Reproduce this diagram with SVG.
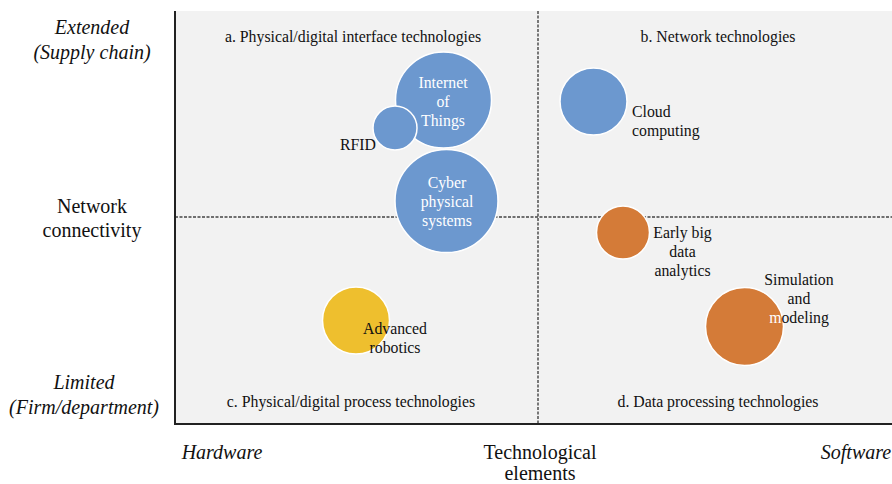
<svg xmlns="http://www.w3.org/2000/svg" width="892" height="484" viewBox="0 0 892 484" font-family="'Liberation Serif', 'DejaVu Serif', serif">
  <style>
    text { font-family: 'Liberation Serif', 'DejaVu Serif', serif; fill: #111; }
    .axis { font-size: 20px; text-anchor: middle; }
    .it { font-style: italic; }
    .quad { font-size: 15.8px; text-anchor: middle; }
    .lbl { font-size: 15.8px; }
    .mid { text-anchor: middle; }
    .inside { fill: #ffffff; }
    .bubble { stroke: #ffffff; stroke-width: 1.5; }
    .blue { fill: #6c98cf; }
    .orange { fill: #d47b38; }
    .yellow { fill: #eebf2e; }
    .divider { stroke: #444; stroke-width: 1.4; stroke-dasharray: 3 1.5; fill: none; }
    .frame { stroke: #222; stroke-width: 2; fill: none; }
  </style>

  <!-- plot background -->
  <rect x="175" y="11" width="717" height="413" fill="#f2f2f2"/>

  <!-- quadrant dividers and frame -->
  <g id="connectors">
    <line class="divider" x1="538" y1="11" x2="538" y2="424"/>
    <line class="divider" x1="175" y1="217" x2="892" y2="217"/>
    <polyline class="frame" points="175,11 175,424 892,424"/>
  </g>

  <!-- axis labels -->
  <g id="y-axis-labels">
    <text class="axis it" x="92" y="34">Extended</text>
    <text class="axis it" x="92" y="59">(Supply chain)</text>
    <text class="axis" x="92" y="213">Network</text>
    <text class="axis" x="92" y="237">connectivity</text>
    <text class="axis it" x="84" y="389">Limited</text>
    <text class="axis it" x="84" y="414">(Firm/department)</text>
  </g>
  <g id="x-axis-labels">
    <text class="axis it" x="222" y="459">Hardware</text>
    <text class="axis" x="540" y="459">Technological</text>
    <text class="axis" x="540" y="480">elements</text>
    <text class="axis it" x="856" y="459">Software</text>
  </g>

  <!-- quadrant titles -->
  <g id="quadrant-titles">
    <text class="quad" x="353" y="42">a. Physical/digital interface technologies</text>
    <text class="quad" x="718" y="42">b. Network technologies</text>
    <text class="quad" x="351" y="407">c. Physical/digital process technologies</text>
    <text class="quad" x="718" y="407">d. Data processing technologies</text>
  </g>

  <!-- technology bubbles -->
  <g id="iot">
    <circle class="bubble blue" cx="443.5" cy="100" r="48"/>
    <text class="lbl mid inside" x="443" y="88">Internet</text>
    <text class="lbl mid inside" x="443" y="107">of</text>
    <text class="lbl mid inside" x="443" y="126">Things</text>
  </g>
  <g id="rfid">
    <circle class="bubble blue" cx="395" cy="128" r="22"/>
    <text class="lbl" x="340" y="150">RFID</text>
  </g>
  <g id="cps">
    <circle class="bubble blue" cx="446.5" cy="201" r="51.5"/>
    <text class="lbl mid inside" x="447" y="188">Cyber</text>
    <text class="lbl mid inside" x="447" y="207">physical</text>
    <text class="lbl mid inside" x="447" y="226">systems</text>
  </g>
  <g id="cloud">
    <circle class="bubble blue" cx="593.5" cy="101.5" r="33.5"/>
    <text class="lbl" x="632" y="117">Cloud</text>
    <text class="lbl" x="632" y="136">computing</text>
  </g>
  <g id="big-data">
    <circle class="bubble orange" cx="623" cy="232.5" r="26.5"/>
    <text class="lbl mid" x="682.5" y="238">Early big</text>
    <text class="lbl mid" x="682.5" y="257">data</text>
    <text class="lbl mid" x="682.5" y="276">analytics</text>
  </g>
  <g id="simulation">
    <circle class="bubble orange" cx="744.5" cy="326.5" r="39"/>
    <text class="lbl mid" x="799" y="285">Simulation</text>
    <text class="lbl mid" x="799" y="304">and</text>
    <text class="lbl mid" x="799" y="323"><tspan class="inside">m</tspan>odeling</text>
  </g>
  <g id="robotics">
    <circle class="bubble yellow" cx="356" cy="320.5" r="33.5"/>
    <text class="lbl mid" x="395" y="334">Advanced</text>
    <text class="lbl mid" x="395" y="353">robotics</text>
  </g>
</svg>
